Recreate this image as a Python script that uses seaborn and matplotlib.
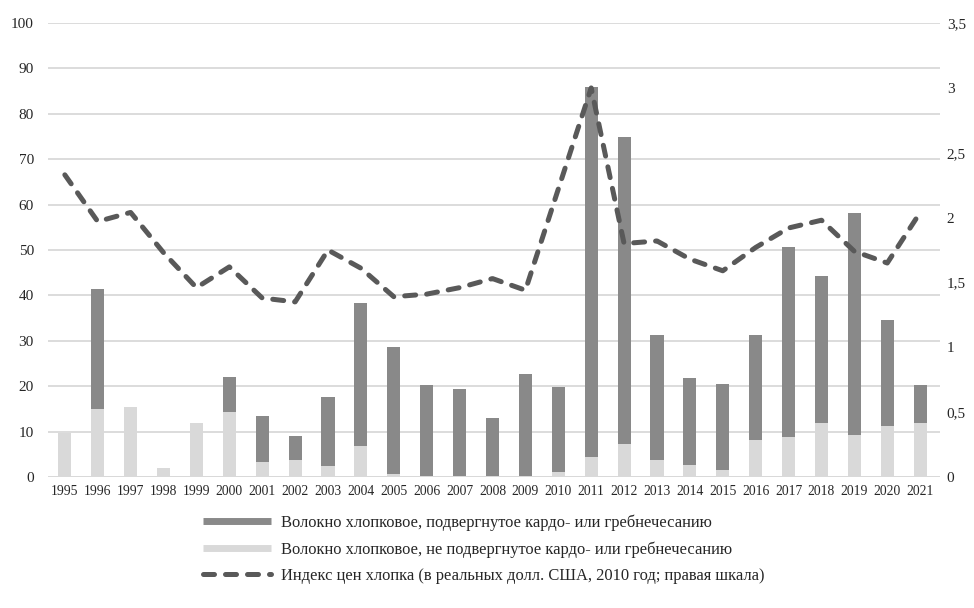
import numpy as np
import pandas as pd
import matplotlib
matplotlib.use('Agg')
import matplotlib.pyplot as plt
from matplotlib.lines import Line2D
import seaborn as sns

##### Data ###################################################################

years = [str(y) for y in range(1995, 2022)]
# total height of the stacked bar (both kinds of fibre)
total = [9.7, 41.5, 15.5, 1.9, 11.9, 22.1, 13.4, 9.0, 17.7, 38.3,
         28.6, 20.2, 19.4, 13.1, 22.7, 19.9, 86.0, 74.9, 31.3, 21.8,
         20.5, 31.3, 50.6, 44.3, 58.1, 34.6, 20.2]
# not carded or combed (light, lower part)
not_carded = [9.7, 15.0, 15.5, 1.9, 11.9, 14.4, 3.3, 3.7, 2.5, 6.8,
              0.75, 0.3, 0.15, 0.3, 0.3, 1.0, 4.3, 7.2, 3.8, 2.65,
              1.5, 8.25, 8.7, 11.8, 9.3, 11.3, 11.8]
# cotton price index, right axis
price_index = [2.33, 1.97, 2.04, 1.73, 1.46, 1.62, 1.38, 1.35, 1.75, 1.61,
               1.39, 1.41, 1.46, 1.53, 1.44, 2.22, 3.0, 1.80, 1.82, 1.68,
               1.59, 1.77, 1.92, 1.98, 1.74, 1.65, 2.04]

labels = ['Волокно хлопковое, подвергнутое кардо- или гребнечесанию',
          'Волокно хлопковое, не подвергнутое кардо- или гребнечесанию',
          'Индекс цен хлопка (в реальных долл. США, 2010 год; правая шкала)']

df = pd.DataFrame({'year': years, 'total': total,
                   'not_carded': not_carded, 'index': price_index})

DARK = '#898989'
LIGHT = '#d9d9d9'
LINE = '#595959'

##### Plot ###################################################################

sns.set_style('white')
plt.rcParams['font.family'] = ['Liberation Serif', 'DejaVu Serif']

fig = plt.figure(figsize=(9.74, 6.08), dpi=100)
ax = fig.add_axes([0.049, 0.2155, 0.916, 0.7465])

sns.barplot(data=df, x='year', y='total', color=DARK, saturation=1,
            width=0.4, linewidth=0, ax=ax)
sns.barplot(data=df, x='year', y='not_carded', color=LIGHT, saturation=1,
            width=0.4, linewidth=0, ax=ax)

ax.set_ylim(0, 100)
ax.set_xlim(-0.52, 26.6)
ax.set_yticks(range(0, 101, 10))
ax.yaxis.grid(True, color=LIGHT, linewidth=1.3)
ax.set_axisbelow(True)
ax.set_xlabel('')
ax.set_ylabel('')
ax.tick_params(axis='x', labelsize=9.8, length=0, pad=6)
ax.tick_params(axis='y', labelsize=11, length=0, pad=10)
for s in ax.spines.values():
    s.set_visible(False)
ax.axhline(0, color=LIGHT, linewidth=1.3, zorder=0.5)

# price index on the right scale
ax2 = ax.twinx()
sns.lineplot(x=np.arange(len(years)), y=df['index'], ax=ax2, color=LINE,
             linewidth=3.6, dashes=False)
ln = ax2.lines[0]
ln.set_dashes((2.2, 2.2))
ln.set_dash_capstyle('round')
ln.set_solid_capstyle('round')
ax2.set_ylim(0, 3.5)
ax2.set_yticks([0, 0.5, 1, 1.5, 2, 2.5, 3, 3.5])
ax2.set_yticklabels(['0', '0,5', '1', '1,5', '2', '2,5', '3', '3,5'])
ax2.tick_params(axis='y', labelsize=11, length=0, pad=5)
ax2.set_ylabel('')
for s in ax2.spines.values():
    s.set_visible(False)

##### Legend #################################################################

handles = [Line2D([], [], color=DARK, linewidth=5, solid_capstyle='butt'),
           Line2D([], [], color=LIGHT, linewidth=5, solid_capstyle='butt'),
           Line2D([], [], color=LINE, linewidth=3.6, dashes=(2.2, 2.2),
                  dash_capstyle='round')]
fig.legend(handles, labels, loc='upper left', bbox_to_anchor=(0.202, 0.165),
           frameon=False, fontsize=11.9, handlelength=4.1, handletextpad=0.6,
           labelspacing=0.62, borderaxespad=0)

fig.savefig('out.png', dpi=100)
